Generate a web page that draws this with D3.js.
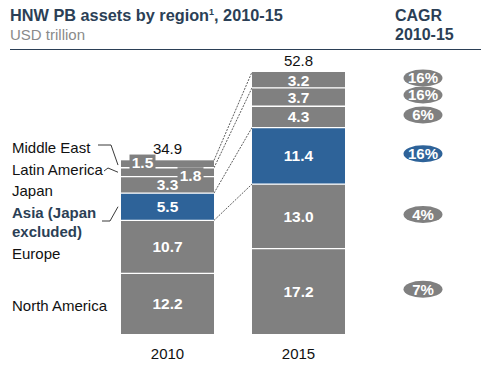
<!DOCTYPE html>
<html>
<head>
<meta charset="utf-8">
<script src="https://cdn.jsdelivr.net/npm/d3@7"></script>
<style>
  body { margin: 0; background: #fff; }
  svg { font-family: Arial, "Liberation Sans", sans-serif; }
</style>
</head>
<body>
<div id="chart"></div>
<script>
// data, bottom to top of the stack
var regions = ["North America", "Europe", "Asia (Japan excluded)", "Japan", "Latin America", "Middle East"];
var years = ["2010", "2015"];
var values2010 = [12.2, 10.7, 5.5, 3.3, 1.8, 1.5];
var values2015 = [17.2, 13.0, 11.4, 4.3, 3.7, 3.2];
var totals = [34.9, 52.8];
var cagr = ["7%", "4%", "16%", "6%", "16%", "16%"];

var width = 490, height = 370;
var grey = "#808080", blue = "#2e6399", navy = "#2b3f56";

var svg = d3.select("#chart").append("svg")
  .attr("width", width)
  .attr("height", height);

// header
var title = svg.append("text").attr("x", 10).attr("y", 21)
  .attr("fill", navy).style("font-weight", "bold").style("font-size", "16.3px");
title.append("tspan").text("HNW PB assets by region");
title.append("tspan").text("1").style("font-size", "9px").attr("dy", -6);
title.append("tspan").text(", 2010-15").attr("dy", 6);
svg.append("text").attr("x", 10).attr("y", 40).attr("fill", "#8a8a8a")
  .style("font-size", "15px").text("USD trillion");
svg.append("text").attr("x", 395).attr("y", 21).attr("fill", navy)
  .style("font-weight", "bold").style("font-size", "16px").text("CAGR");
svg.append("text").attr("x", 395).attr("y", 40).attr("fill", navy)
  .style("font-weight", "bold").style("font-size", "16px").text("2010-15");
svg.append("line").attr("x1", 10).attr("x2", 481).attr("y1", 49.5).attr("y2", 49.5)
  .attr("stroke", navy).attr("stroke-width", 1);

// scales
var x = d3.scaleBand().domain(years).range([121, 345]).paddingInner(0.29).paddingOuter(0);
var y = d3.scaleLinear().domain([0, 52.8]).range([334, 72]);

var rows = regions.map(function (r, i) {
  return { region: r, "2010": values2010[i], "2015": values2015[i] };
});
var series = d3.stack().keys(regions)
  (years.map(function (yr) {
    var o = { year: yr };
    rows.forEach(function (d) { o[d.region] = d[yr]; });
    return o;
  }));

function colorOf(region) { return region.indexOf("Asia") === 0 ? blue : grey; }

// connector lines between the two bars
var connect = [
  ["Middle East", 1], ["Latin America", 1], ["Asia (Japan excluded)", 1], ["Asia (Japan excluded)", 0]
];
connect.forEach(function (c) {
  var s = series[regions.indexOf(c[0])];
  svg.append("line")
    .attr("x1", x("2010") + x.bandwidth()).attr("y1", y(s[0][c[1]]))
    .attr("x2", x("2015")).attr("y2", y(s[1][c[1]]))
    .attr("stroke", "#333").attr("stroke-width", 0.8)
    .style("stroke-dasharray", "2,1.2");
});

// bars
var layer = svg.selectAll("g.layer").data(series).enter().append("g").attr("class", "layer");
layer.selectAll("rect").data(function (d) { return d.map(function (p) { return { p: p, key: d.key }; }); })
  .enter().append("rect")
  .attr("x", function (d) { return x(d.p.data.year); })
  .attr("y", function (d) { return y(d.p[1]); })
  .attr("width", x.bandwidth())
  .attr("height", function (d) { return y(d.p[0]) - y(d.p[1]); })
  .attr("fill", function (d) { return colorOf(d.key); });

// white separators
series.forEach(function (s, i) {
  if (i === 0) return;
  s.forEach(function (p) {
    svg.append("line")
      .attr("x1", x(p.data.year)).attr("x2", x(p.data.year) + x.bandwidth())
      .attr("y1", y(p[0])).attr("y2", y(p[0]))
      .attr("stroke", "#fff").attr("stroke-width", 1.3);
  });
});

// value labels; the two thin 2010 segments get shifted labels on a grey patch
var shift = { "Middle East": -25, "Latin America": 23 };
var shiftY = { "Middle East": -1.5, "Latin America": 3 };
series.forEach(function (s) {
  s.forEach(function (p, j) {
    var cx = x(p.data.year) + x.bandwidth() / 2;
    var cy = (y(p[0]) + y(p[1])) / 2;
    var v = p[1] - p[0];
    if (j === 0 && shift[s.key] !== undefined) {
      cx += shift[s.key];
      cy += shiftY[s.key];
      svg.append("rect").attr("x", cx - 13).attr("y", cy - 8)
        .attr("width", 26).attr("height", 15).attr("fill", grey);
    }
    svg.append("text").attr("x", cx).attr("y", cy).attr("dy", "0.36em")
      .attr("text-anchor", "middle").attr("fill", "#fff")
      .style("font-weight", "bold").style("font-size", "15.5px")
      .text(d3.format(".1f")(v));
  });
});

// totals above bars
years.forEach(function (yr, i) {
  var top = d3.max(series, function (s) { return s[i][1]; });
  svg.append("text").attr("x", x(yr) + x.bandwidth() / 2).attr("y", y(top) - 6)
    .attr("text-anchor", "middle").attr("fill", "#111").style("font-size", "15px")
    .text(d3.format(".1f")(totals[i]));
  svg.append("text").attr("x", x(yr) + x.bandwidth() / 2).attr("y", 359)
    .attr("text-anchor", "middle").attr("fill", "#111").style("font-size", "15px")
    .text(yr);
});

// CAGR pills next to 2015 segments
series.forEach(function (s, i) {
  var p = s[1];
  var cy = (y(p[0]) + y(p[1])) / 2 - 2;
  svg.append("ellipse").attr("cx", 423).attr("cy", cy).attr("rx", 19.5).attr("ry", 8.5)
    .attr("fill", colorOf(s.key));
  svg.append("text").attr("x", 423).attr("y", cy).attr("dy", "0.36em")
    .attr("text-anchor", "middle").attr("fill", "#fff")
    .style("font-weight", "bold").style("font-size", "15px").text(cagr[i]);
});

// left category labels
var labelY = { "North America": 311, "Europe": 259, "Japan": 196, "Latin America": 175, "Middle East": 153 };
regions.forEach(function (r) {
  if (r.indexOf("Asia") === 0) {
    var t = svg.append("text").attr("x", 12).attr("y", 218).attr("fill", navy)
      .style("font-weight", "bold").style("font-size", "15px");
    t.append("tspan").attr("x", 12).text("Asia (Japan");
    t.append("tspan").attr("x", 12).attr("dy", 19).text("excluded)");
  } else {
    svg.append("text").attr("x", 12).attr("y", labelY[r]).attr("fill", "#111")
      .style("font-size", "15px").text(r);
  }
});

// leader lines to the small 2010 segments
function segMid(r) { var p = series[regions.indexOf(r)][0]; return (y(p[0]) + y(p[1])) / 2; }
var bx = x("2010") - 3;
var leader = d3.line();
svg.append("path").attr("d", leader([[98, 145], [111, 145], [bx, segMid("Middle East") + 1]]))
  .attr("fill", "none").attr("stroke", "#222").attr("stroke-width", 0.9);
svg.append("path").attr("d", leader([[104, 171], [108, 168], [bx, segMid("Latin America")]]))
  .attr("fill", "none").attr("stroke", "#222").attr("stroke-width", 0.9);
svg.append("path").attr("d", leader([[102, 221], [110, 221], [bx, segMid("Asia (Japan excluded)")]]))
  .attr("fill", "none").attr("stroke", "#222").attr("stroke-width", 0.9);
</script>
</body>
</html>
